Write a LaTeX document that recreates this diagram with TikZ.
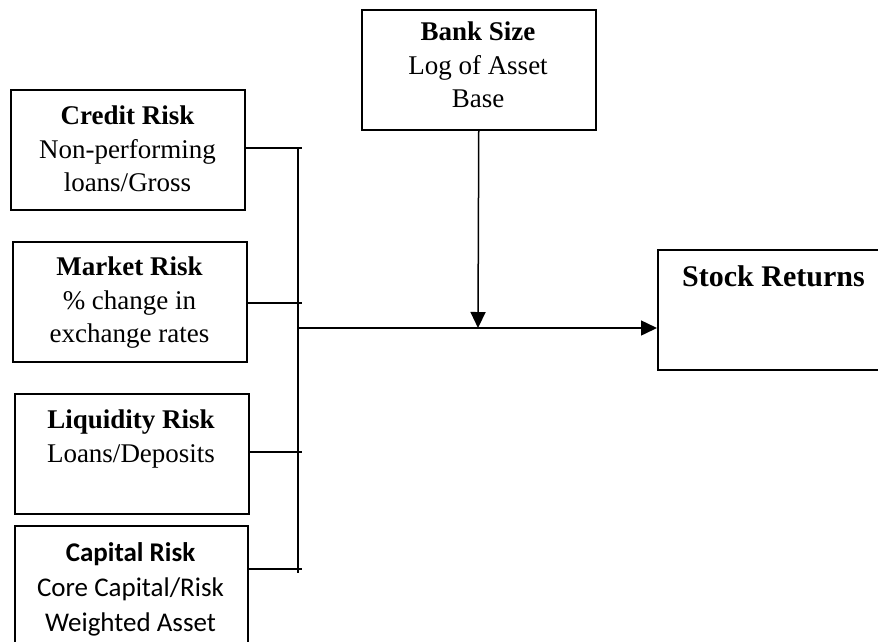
\documentclass[tikz,border=0pt]{standalone}
\usepackage{fontspec}
\setmainfont{Liberation Serif}
\newfontfamily\calib{Carlito}
\usetikzlibrary{arrows.meta,calc}
\tikzset{
  box/.style={draw=black, line width=1.5pt, minimum width=#1, minimum height=120pt, inner sep=0pt, anchor=north west},
  box/.default=234pt,
  txt/.style={align=center, inner sep=0pt, anchor=north, font=\fontsize{27}{33.5}\selectfont},
  conn/.style={draw=black, line width=1.5pt},
  arr/.style={conn, -{Triangle[length=16pt,width=15pt]}}
}
\begin{document}
\begin{tikzpicture}[x=1pt,y=-1pt]
\useasboundingbox (0,0) rectangle (878,641);
\clip (0,0) rectangle (878,641);
% boxes
\node[box] (credit) at (10,89) {};
\node[box] (market) at (12,241) {};
\node[box] (liquid) at (14,393) {};
\node[box=233pt, minimum height=140pt] (capital) at (14,525) {};
\node[box] (bank) at (361,9) {};
\node[box=240pt] (stock) at (657,249) {};
% texts
\node[txt] (tcredit) at (127.5,106) {\textbf{Credit Risk}\\Non-performing\\loans/Gross};
\node[txt] (tmarket) at (129.5,257) {\textbf{Market Risk}\\\% change in\\exchange rates};
\node[txt] (tliquid) at (131,410) {\textbf{Liquidity Risk}\\Loans/Deposits};
\node[txt, font=\calib\fontsize{27}{35}\selectfont] (tcapital) at (130.5,542) {\textbf{Capital Risk}\\Core Capital/Risk\\Weighted Asset};
\node[txt] (tbank) at (478,22) {\textbf{Bank Size}\\Log of Asset\\Base};
\node[txt, font=\fontsize{30}{35}\selectfont\bfseries, anchor=north west] (tstock) at (682,265) {Stock Returns};
% connector coordinates
\coordinate (vtop) at (298,148);
\coordinate (vbot) at (298,573);
\coordinate (c1) at (302,148);
\coordinate (c2) at (302,303);
\coordinate (c3) at (302,452);
\coordinate (c4) at (302,569);
\coordinate (junc) at (298,328);
\coordinate (sin) at (657,328);
\coordinate (bend) at (478,328);
% connectors
\draw[conn] (vtop) -- (vbot);
\draw[conn] (credit.east |- c1) -- (c1);
\draw[conn] (market.east |- c2) -- (c2);
\draw[conn] (liquid.east |- c3) -- (c3);
\draw[conn] (capital.east |- c4) -- (c4);
\draw[arr] (junc) -- (sin);
\draw[arr] (bank.south) -- (bend);
\end{tikzpicture}
\end{document}
